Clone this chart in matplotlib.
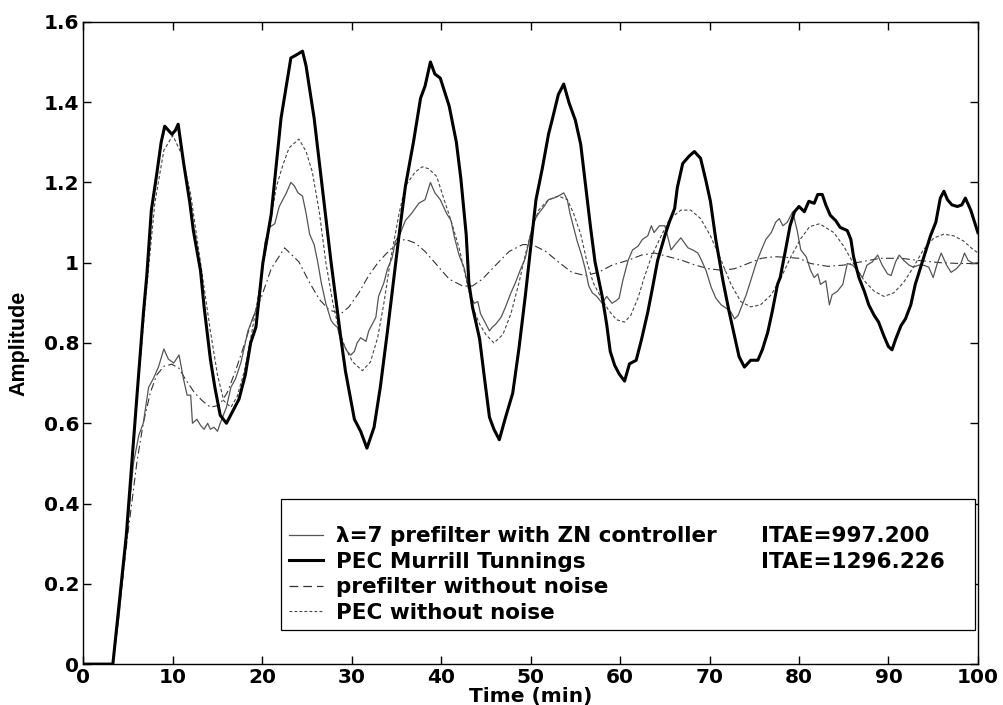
import numpy as np
import matplotlib
matplotlib.use("Agg")
import matplotlib.pyplot as plt
from matplotlib.lines import Line2D

plt.rcParams['font.family'] = ['DejaVu Sans']
plt.rcParams['font.weight'] = 'bold'

# PEC Murrill Tunnings (noisy, thick)
t_pec = [0, 3.3, 4.8, 6.0, 6.7, 7.1, 7.6, 8.2, 8.7, 9.1, 9.5, 9.9, 10.3, 10.6, 11.2, 11.9, 12.3,
         13.1, 13.5, 14.2, 14.7, 15.3, 16.0, 16.7, 17.4, 18.1, 18.7, 19.3, 20.07, 21.0, 22.1, 23.2,
         24.0, 24.5, 24.9, 25.8, 26.7, 27.7, 28.8, 29.3, 30.3, 31.0, 31.7, 32.5, 33.2, 34.0, 34.7,
         35.3, 36.0, 36.9, 37.7, 38.2, 38.8, 39.3, 39.9, 40.9, 41.7, 42.2, 42.8, 43.1, 43.5, 44.3,
         44.8, 45.4, 45.9, 46.5, 47.2, 48.0, 48.7, 49.4, 50.0, 50.6, 51.3, 52.0, 52.4, 53.1, 53.7,
         54.3, 55.0, 55.6, 56.1, 56.7, 57.2, 58.0, 58.5, 58.9, 59.4, 59.9, 60.5, 61.05, 61.8, 62.4,
         63.1, 63.7, 64.2, 65.0, 65.5, 66.1, 66.4, 67.0, 67.7, 68.3, 69.0, 69.6, 70.1, 70.7, 71.5,
         72.2, 72.8, 73.3, 73.9, 74.6, 75.4, 75.9, 76.5, 77.0, 77.6, 77.9, 78.5, 79.0, 79.5, 80.0,
         80.6, 81.1, 81.7, 82.1, 82.6, 83.0, 83.5, 84.1, 84.6, 85.4, 85.8, 86.1, 86.7, 87.3, 87.8,
         88.4, 88.9, 89.5, 90.0, 90.4, 90.8, 91.4, 91.9, 92.5, 93.0, 93.6, 94.2, 94.7, 95.3, 95.8,
         96.2, 96.6, 97.1, 97.7, 98.2, 98.6, 99.2, 99.5, 100]
y_pec = [0, 0, 0.32, 0.67, 0.87, 0.97, 1.13, 1.22, 1.30, 1.34, 1.33, 1.32, 1.33, 1.345, 1.25, 1.15, 1.08,
         0.98, 0.89, 0.76, 0.69, 0.62, 0.60, 0.63, 0.66, 0.72, 0.80, 0.84, 1.00, 1.12, 1.36, 1.51,
         1.52, 1.527, 1.49, 1.36, 1.19, 1.00, 0.81, 0.73, 0.61, 0.58, 0.538, 0.59, 0.69, 0.83, 0.96,
         1.07, 1.19, 1.30, 1.41, 1.44, 1.50, 1.47, 1.46, 1.39, 1.30, 1.21, 1.07, 0.95, 0.89, 0.81,
         0.72, 0.615, 0.585, 0.559, 0.615, 0.675, 0.787, 0.916, 1.037, 1.157, 1.234, 1.32, 1.355, 1.419, 1.445,
         1.398, 1.355, 1.295, 1.2, 1.088, 1.002, 0.916, 0.847, 0.779, 0.744, 0.723, 0.705, 0.748, 0.757, 0.809,
         0.877, 0.946, 1.006, 1.067, 1.101, 1.135, 1.187, 1.247, 1.265, 1.277, 1.26, 1.204, 1.153, 1.058, 0.955,
         0.877, 0.817, 0.766, 0.74, 0.757, 0.757, 0.783, 0.826, 0.877, 0.946, 0.963, 1.032, 1.092, 1.127, 1.14,
         1.127, 1.153, 1.148, 1.17, 1.17, 1.144, 1.118, 1.105, 1.088, 1.08, 1.058, 1.015, 0.963, 0.929, 0.895,
         0.869, 0.852, 0.817, 0.791, 0.783, 0.809, 0.843, 0.86, 0.895, 0.946, 0.989, 1.032, 1.067, 1.101, 1.161,
         1.178, 1.157, 1.144, 1.14, 1.144, 1.161, 1.131, 1.11, 1.075]

# lambda=7 prefilter with ZN controller (noisy, thin)
t_pre = [0, 3.3, 4.0, 4.8, 5.6, 6.2, 6.7, 7.3, 7.8, 8.4, 9.0, 9.5, 10.1, 10.7, 11.2, 11.6, 12.0, 12.2,
         12.7, 13.1, 13.5, 13.9, 14.2, 14.6, 15.0, 15.3, 16.0, 16.5, 17.0, 17.6, 18.4, 19.1, 19.7, 20.3,
         20.8, 21.4, 21.9, 22.7, 23.2, 23.6, 24.0, 24.5, 24.9, 25.3, 25.8, 26.2, 26.6, 27.1, 27.7, 28.0,
         28.4, 28.8, 29.1, 29.5, 29.9, 30.3, 30.6, 31.0, 31.6, 31.9, 32.3, 32.7, 33.0, 33.6, 34.0, 34.5,
         34.9, 35.4, 36.0, 36.7, 37.5, 38.2, 38.8, 39.3, 39.9, 40.6, 41.1, 41.5, 42.0, 42.6, 43.0, 43.3,
         43.7, 44.1, 44.4, 45.0, 45.4, 45.7, 46.1, 46.7, 47.2, 47.8, 48.3, 48.9, 49.4, 50.0, 50.4, 50.9,
         51.5, 52.0, 52.6, 53.1, 53.7, 54.1, 54.4, 54.8, 55.2, 55.7, 56.1, 56.5, 56.9, 57.4, 58.0, 58.5,
         59.1, 59.6, 59.9, 60.3, 60.9, 61.4, 62.0, 62.5, 63.1, 63.5, 63.8, 64.4, 65.0, 65.3, 65.7, 66.3,
         66.8, 67.2, 67.6, 68.1, 68.7, 69.1, 69.6, 70.2, 70.7, 71.3, 71.9, 72.4, 72.8, 73.2, 73.5, 74.1,
         74.6, 75.2, 75.8, 76.3, 76.9, 77.4, 77.8, 78.2, 78.7, 79.3, 79.8, 80.2, 80.8, 81.3, 81.7, 82.1,
         82.4, 83.0, 83.4, 83.7, 84.3, 84.9, 85.4, 86.0, 86.5, 87.1, 87.6, 88.2, 88.8, 89.3, 89.9, 90.3,
         90.8, 91.2, 91.7, 92.3, 92.8, 93.4, 93.9, 94.5, 95.0, 95.4, 95.9, 96.5, 97.0, 97.6, 98.1, 98.5,
         98.9, 99.5, 100]
y_pre = [0, 0, 0.12, 0.31, 0.50, 0.57, 0.60, 0.69, 0.71, 0.74, 0.785, 0.76, 0.75, 0.77, 0.71, 0.67, 0.67, 0.60,
         0.61, 0.595, 0.585, 0.60, 0.585, 0.59, 0.58, 0.60, 0.64, 0.69, 0.71, 0.75, 0.83, 0.87, 0.91, 1.05,
         1.088, 1.097, 1.14, 1.174, 1.2, 1.191, 1.174, 1.166, 1.123, 1.071, 1.045, 1.002, 0.95, 0.899, 0.856, 0.847,
         0.839, 0.804, 0.796, 0.779, 0.77, 0.779, 0.8, 0.813, 0.804, 0.83, 0.847, 0.864, 0.916, 0.95, 0.985, 1.011,
         1.054, 1.071, 1.105, 1.123, 1.148, 1.157, 1.2, 1.174, 1.157, 1.123, 1.105, 1.062, 1.019, 0.985, 0.942, 0.916,
         0.899, 0.903, 0.873, 0.847, 0.83, 0.839, 0.847, 0.864, 0.89, 0.925, 0.95, 0.985, 1.011, 1.071, 1.105, 1.123,
         1.14, 1.157, 1.161, 1.166, 1.174, 1.157, 1.123, 1.088, 1.054, 1.019, 0.985, 0.942, 0.925, 0.916, 0.899, 0.916,
         0.899, 0.906, 0.912, 0.955, 1.006, 1.032, 1.041, 1.058, 1.067, 1.092, 1.075, 1.092, 1.092, 1.067, 1.032, 1.049,
         1.062, 1.049, 1.037, 1.032, 1.024, 1.006, 0.981, 0.938, 0.912, 0.895, 0.886, 0.877, 0.86, 0.869, 0.886, 0.92,
         0.955, 0.998, 1.032, 1.058, 1.075, 1.101, 1.11, 1.092, 1.101, 1.127, 1.08, 1.032, 1.015, 0.981, 0.963, 0.972,
         0.946, 0.955, 0.895, 0.92, 0.929, 0.946, 0.998, 0.994, 0.981, 0.963, 0.994, 1.002, 1.019, 0.994, 0.972, 0.968,
         1.002, 1.019, 1.006, 0.994, 0.989, 0.994, 0.994, 0.989, 0.963, 0.994, 1.024, 0.994, 0.976, 0.985, 0.998, 1.024,
         1.006, 0.998, 1.0]

# prefilter without noise (smooth, dash-dot)
t_pre_nn = [0, 3.3, 4.9, 6.0, 6.7, 7.5, 8.2, 9.0, 9.9, 10.7, 11.4, 12.4, 13.3, 14.2, 15.2, 16.1, 17.0,
            18.0, 18.9, 19.9, 21.0, 22.5, 24.1, 25.3, 26.4, 27.5, 28.8, 29.7, 30.8, 31.9, 33.0, 34.1,
            35.3, 36.0, 37.1, 38.2, 39.3, 40.9, 42.4, 43.5, 44.6, 46.1, 47.6, 49.1, 50.2, 51.7, 53.1,
            54.6, 56.1, 57.6, 59.1, 60.9, 62.4, 63.9, 65.4, 66.9, 68.4, 69.9, 71.4, 72.8, 74.3, 75.8,
            77.3, 78.8, 80.0, 81.3, 83.2, 85.0, 86.9, 89.1, 91.4, 93.6, 95.8, 98.0, 100]
y_pre_nn = [0, 0, 0.31, 0.505, 0.60, 0.677, 0.72, 0.742, 0.747, 0.737, 0.71, 0.677, 0.656, 0.64, 0.645, 0.677, 0.73,
            0.796, 0.86, 0.914, 0.985, 1.037, 1.002, 0.95, 0.908, 0.882, 0.873, 0.89, 0.925, 0.968, 1.002, 1.028,
            1.054, 1.058, 1.049, 1.028, 1.0, 0.959, 0.942, 0.942, 0.959, 0.994, 1.028, 1.045, 1.045, 1.028, 1.002,
            0.976, 0.968, 0.976, 0.994, 1.006, 1.019, 1.024, 1.015, 1.006, 0.994, 0.985, 0.981, 0.985, 0.998, 1.011,
            1.015, 1.013, 1.011, 0.998, 0.991, 0.994, 1.002, 1.011, 1.011, 1.005, 1.0, 0.998, 0.998]

# PEC without noise (smooth, short dashes)
t_pec_nn = [0, 3.3, 4.8, 6.0, 7.0, 8.0, 9.0, 10.0, 11.0, 12.0, 13.1, 14.2, 15.0, 15.7, 16.5, 17.2, 18.0,
            18.7, 19.5, 20.8, 21.6, 22.3, 23.0, 24.1, 24.9, 25.6, 26.4, 27.1, 27.9, 28.6, 29.3, 30.1,
            31.2, 32.1, 32.9, 33.6, 34.3, 35.3, 36.0, 37.1, 37.9, 38.6, 39.5, 40.2, 41.1, 42.0, 42.8,
            43.5, 44.3, 45.0, 45.9, 46.9, 47.8, 48.7, 49.4, 50.2, 50.9, 52.0, 53.1, 54.1, 54.8, 55.6,
            56.3, 57.0, 57.8, 58.7, 59.6, 60.5, 61.2, 62.0, 62.7, 63.5, 64.6, 65.6, 66.8, 67.9, 69.0,
            70.1, 71.3, 72.4, 73.5, 74.6, 75.7, 76.9, 78.0, 79.1, 80.2, 81.2, 82.3, 83.9, 85.0, 86.1,
            87.3, 88.4, 89.5, 90.6, 91.7, 92.8, 93.9, 95.1, 96.2, 97.3, 98.4, 99.5, 100]
y_pec_nn = [0, 0, 0.32, 0.66, 0.92, 1.15, 1.28, 1.317, 1.27, 1.17, 1.0, 0.83, 0.72, 0.656, 0.64, 0.667, 0.73,
            0.81, 0.91, 1.088, 1.191, 1.243, 1.286, 1.308, 1.277, 1.226, 1.123, 1.002, 0.899, 0.83, 0.787, 0.753,
            0.731, 0.753, 0.813, 0.899, 1.002, 1.123, 1.191, 1.226, 1.239, 1.234, 1.215, 1.166, 1.105, 1.037, 0.959,
            0.89, 0.847, 0.821, 0.8, 0.821, 0.873, 0.95, 1.019, 1.088, 1.131, 1.157, 1.166, 1.157, 1.123, 1.071,
            1.002, 0.95, 0.916, 0.882, 0.858, 0.852, 0.869, 0.912, 0.963, 1.015, 1.067, 1.11, 1.131, 1.131, 1.11,
            1.067, 1.006, 0.946, 0.903, 0.89, 0.895, 0.92, 0.963, 1.015, 1.06, 1.09, 1.097, 1.075, 1.041, 0.998,
            0.955, 0.929, 0.916, 0.925, 0.951, 0.989, 1.032, 1.062, 1.071, 1.067, 1.054, 1.032, 1.025]

labels = ['\u03bb=7 prefilter with ZN controller', 'PEC Murrill Tunnings',
          'prefilter without noise', 'PEC without noise']
itae = ['ITAE=997.200', 'ITAE=1296.226']

fig = plt.figure(figsize=(10.04, 7.05), dpi=100)
ax = fig.add_axes([0.083, 0.058, 0.891, 0.911])

ax.plot(t_pre_nn, y_pre_nn, color='#333333', lw=0.8, dashes=(7, 3, 1.5, 3))
ax.plot(t_pec_nn, y_pec_nn, color='#444444', lw=0.8, dashes=(3, 2))
ax.plot(t_pre, y_pre, color='#555555', lw=0.9)
ax.plot(t_pec, y_pec, color='black', lw=2.2)

ax.set_xlim(0, 100)
ax.set_ylim(0, 1.6)
ax.set_xticks(np.arange(0, 101, 10))
ax.set_yticks(np.arange(0, 1.61, 0.2))
ax.set_yticklabels(['0', '0.2', '0.4', '0.6', '0.8', '1', '1.2', '1.4', '1.6'])
ax.tick_params(direction='in', top=True, right=True, length=6, width=1, labelsize=14.5, pad=3)
for s in ax.spines.values():
    s.set_linewidth(1)
ax.set_xlabel('Time (min)', fontsize=14.5, fontweight='bold', labelpad=0)
ax.set_ylabel('Amplitude', fontsize=15.5, fontweight='bold', labelpad=10,
              family=['Liberation Sans', 'DejaVu Sans'])

handles = [Line2D([], [], color='#555555', lw=0.9),
           Line2D([], [], color='black', lw=2.2),
           Line2D([], [], color='#333333', lw=0.9, dashes=(7, 4)),
           Line2D([], [], color='#444444', lw=0.8, dashes=(2.5, 2))]
leg = ax.legend(handles, labels, loc='lower left', bbox_to_anchor=(0.221, 0.053, 0.776, 0.2),
                mode='expand', fontsize=15.5, frameon=True, fancybox=False, edgecolor='black',
                framealpha=1, handlelength=1.6, handletextpad=0.6, labelspacing=0.25,
                borderpad=0.35, borderaxespad=0, title=' ', title_fontsize=10)
leg.get_frame().set_linewidth(0.9)

fig.canvas.draw()
inv = ax.transAxes.inverted()
for txt, s in zip(leg.get_texts()[:2], itae):
    bb = txt.get_window_extent()
    yc = inv.transform(((bb.x0 + bb.x1) / 2, (bb.y0 + bb.y1) / 2))[1]
    ax.text(0.757, yc, s, transform=ax.transAxes, fontsize=15.5, fontweight='bold',
            va='center', ha='left', zorder=10)

fig.savefig('out.png', dpi=100)
